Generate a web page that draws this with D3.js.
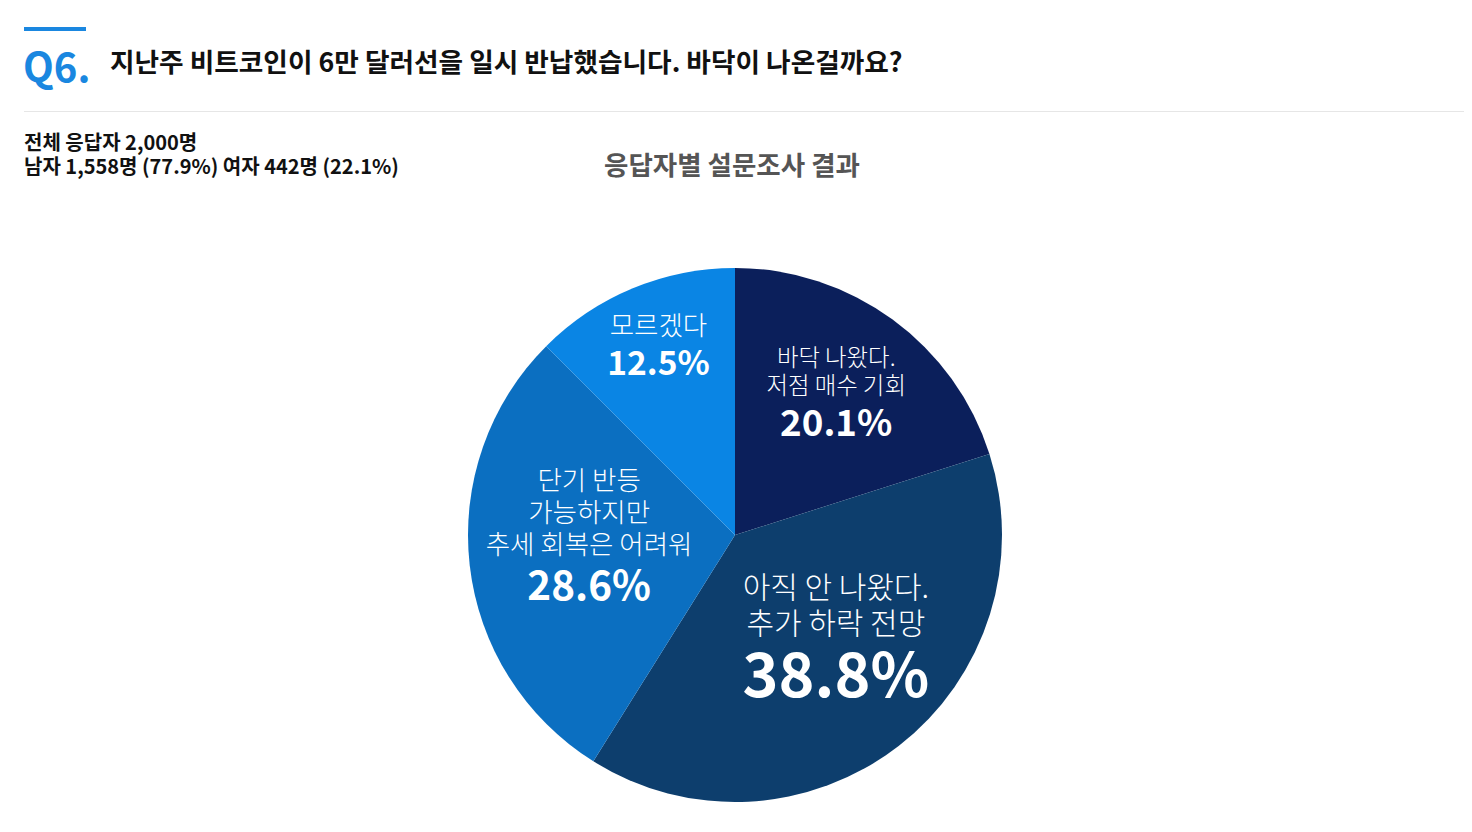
<!DOCTYPE html>
<html>
<head>
<meta charset="utf-8">
<script src="https://cdn.jsdelivr.net/npm/d3@7"></script>
<style>
  body { margin: 0; background: #fff; }
  svg text { font-family: "Noto Sans CJK KR", "Noto Sans", sans-serif; }
</style>
</head>
<body>
<script>
// 설문 결과 파이 차트

// --- data ---
var categories = [
  ["바닥 나왔다.", "저점 매수 기회"],
  ["아직 안 나왔다.", "추가 하락 전망"],
  ["단기 반등", "가능하지만", "추세 회복은 어려워"],
  ["모르겠다"]
];
var values = [20.1, 38.8, 28.6, 12.5];
var colors = ["#0b1f5b", "#0d3e6d", "#0b6fc1", "#0a85e4"];

var questionNo = "Q6.";
var question = "지난주 비트코인이 6만 달러선을 일시 반납했습니다. 바닥이 나온걸까요?";
var respondents = ["전체 응답자 2,000명", "남자 1,558명 (77.9%) 여자 442명 (22.1%)"];
var chartTitle = "응답자별 설문조사 결과";

// label layout per slice (radius, angle shift in deg, font sizes, offsets)
var labelLayout = [
  {r: 169, da: 0.6,  fs: 23.4, lh: 28, y0: -34, pfs: 36.7, py: 36},
  {r: 149, da: -4.8, fs: 30,   lh: 36, y0: -47, pfs: 61,   py: 52},
  {r: 146, da: 4.5,  fs: 26.5, lh: 32, y0: -50, pfs: 40.4, py: 60},
  {r: 200, da: 0,    fs: 26.5, lh: 30, y0: -15, pfs: 33.5, py: 25}
];

var W = 1472, H = 832;
var cx = 735, cy = 535, radius = 267;

var svg = d3.select("body").append("svg")
    .attr("width", W)
    .attr("height", H);

// header
svg.append("rect")
    .attr("x", 24).attr("y", 27)
    .attr("width", 62).attr("height", 4)
    .attr("fill", "#1a87e0");

svg.append("text")
    .attr("x", 23).attr("y", 82)
    .attr("font-size", 40)
    .attr("font-weight", 700)
    .attr("fill", "#1a87e0")
    .text(questionNo);

svg.append("text")
    .attr("x", 110).attr("y", 72)
    .attr("font-size", 26.7)
    .attr("font-weight", 700)
    .attr("fill", "#111")
    .text(question);

svg.append("line")
    .attr("x1", 24).attr("x2", 1464)
    .attr("y1", 111.5).attr("y2", 111.5)
    .attr("stroke", "#e6e6e6")
    .attr("stroke-width", 1);

svg.selectAll(".resp")
    .data(respondents)
  .enter().append("text")
    .attr("class", "resp")
    .attr("x", 24)
    .attr("y", function(d, i) { return 150 + i * 24; })
    .attr("font-size", 20)
    .attr("font-weight", 700)
    .attr("fill", "#111")
    .text(function(d) { return d; });

svg.append("text")
    .attr("x", 732).attr("y", 175)
    .attr("text-anchor", "middle")
    .attr("font-size", 26.5)
    .attr("font-weight", 700)
    .attr("fill", "#555")
    .text(chartTitle);

// pie
var pie = d3.pie().sort(null).value(function(d) { return d; });
var arc = d3.arc().innerRadius(0).outerRadius(radius);
var arcs = pie(values);

var g = svg.append("g")
    .attr("transform", "translate(" + cx + "," + cy + ")");

g.selectAll("path")
    .data(arcs)
  .enter().append("path")
    .attr("d", arc)
    .attr("fill", function(d, i) { return colors[i]; });

// labels
var labels = g.selectAll(".lbl")
    .data(arcs)
  .enter().append("g")
    .attr("class", "lbl")
    .attr("transform", function(d, i) {
      var L = labelLayout[i];
      var a = (d.startAngle + d.endAngle) / 2 + L.da * Math.PI / 180;
      return "translate(" + (L.r * Math.sin(a)) + "," + (-L.r * Math.cos(a)) + ")";
    });

labels.each(function(d, i) {
  var L = labelLayout[i];
  var sel = d3.select(this);
  categories[i].forEach(function(line, j) {
    sel.append("text")
        .attr("y", L.y0 + j * L.lh)
        .attr("text-anchor", "middle")
        .attr("font-size", L.fs)
        .attr("font-weight", 300)
        .attr("fill", "#fff")
        .text(line);
  });
  sel.append("text")
      .attr("y", L.py)
      .attr("text-anchor", "middle")
      .attr("font-size", L.pfs)
      .attr("font-weight", 700)
      .attr("fill", "#fff")
      .text(values[i].toFixed(1) + "%");
});
</script>
</body>
</html>
